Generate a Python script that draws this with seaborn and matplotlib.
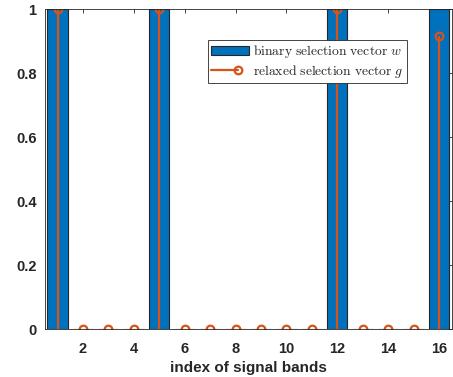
import numpy as np
import pandas as pd
import seaborn as sns
import matplotlib.pyplot as plt
from matplotlib.patches import Patch
from matplotlib.lines import Line2D
from matplotlib.legend_handler import HandlerLine2D

# band index and the two selection vectors
bands = list(range(1, 17))
w_binary = [1, 0, 0, 0, 1, 0, 0, 0, 0, 0, 0, 1, 0, 0, 0, 1]
g_relaxed = [1, 0, 0, 0, 1, 0, 0, 0, 0, 0, 0, 1, 0, 0, 0, 0.915]
xticks = [2, 4, 6, 8, 10, 12, 14, 16]
yticks = [0, 0.2, 0.4, 0.6, 0.8, 1]

blue = '#0072BD'
orange = '#D95319'
axcol = '#262626'


class StemHandler(HandlerLine2D):
    # matlab style: shorter line with the marker on its right end
    def create_artists(self, *args, **kwargs):
        arts = super().create_artists(*args, **kwargs)
        xd = np.asarray(arts[0].get_xdata(), dtype=float)
        x0, x1 = xd[0], xd[-1]
        arts[0].set_xdata(np.linspace(x0, x0 + 0.72 * (x1 - x0), 3))
        arts[0].set_markevery([2])
        return arts


df = pd.DataFrame({'band': bands, 'w': w_binary, 'g': g_relaxed})

sns.set_style('white')
plt.rcParams['font.family'] = ['Liberation Sans', 'DejaVu Sans']
plt.rcParams['mathtext.fontset'] = 'cm'

fig = plt.figure(figsize=(4.53, 3.77), dpi=100)
ax = fig.add_axes([0.099, 0.127, 0.898, 0.849])

sns.barplot(data=df, x='band', y='w', native_scale=True, width=0.8,
            color=blue, saturation=1, edgecolor=axcol, linewidth=0.8, ax=ax)

ml, sl, bl = ax.stem(df['band'], df['g'], basefmt=' ')
plt.setp(sl, color=orange, linewidth=1.6)
plt.setp(ml, color=orange, marker='o', markersize=5.5,
         markerfacecolor='none', markeredgewidth=1.6)

ax.set_xlim(0.5, 16.5)
ax.set_ylim(0, 1)
ax.set_xticks(xticks)
ax.set_yticks(yticks)
ax.set_yticklabels(['0', '0.2', '0.4', '0.6', '0.8', '1'])
ax.tick_params(direction='in', length=3, width=0.6, colors=axcol,
               top=True, right=True, labelsize=10.5)
ax.tick_params(axis='x', pad=9)
ax.tick_params(axis='y', pad=6)
for lab in ax.get_xticklabels() + ax.get_yticklabels():
    lab.set_fontweight('bold')
for sp in ax.spines.values():
    sp.set_color(axcol)
    sp.set_linewidth(0.6)

ax.set_xlabel('index of signal bands', fontsize=11, fontweight='bold',
              color=axcol, labelpad=4)
ax.set_ylabel('')

stem_handle = Line2D([], [], color=orange, linewidth=1.6, marker='o',
                     markersize=5.5, markerfacecolor='none',
                     markeredgewidth=1.6)
handles = [Patch(facecolor=blue, edgecolor=axcol, linewidth=0.8), stem_handle]
labels = [r'$\mathrm{binary\ selection\ vector}\ w$',
          r'$\mathrm{relaxed\ selection\ vector}\ g$']
leg = ax.legend(handles, labels, loc='upper left',
                bbox_to_anchor=(0.4, 0.903), fontsize=9.8, frameon=True,
                fancybox=False, edgecolor=axcol, framealpha=1,
                borderpad=0.25, handlelength=2.8, handletextpad=0.3,
                labelspacing=0.15, numpoints=1, borderaxespad=0,
                handler_map={stem_handle: StemHandler()})
leg.get_frame().set_linewidth(0.6)

fig.savefig('out.png', dpi=100)
